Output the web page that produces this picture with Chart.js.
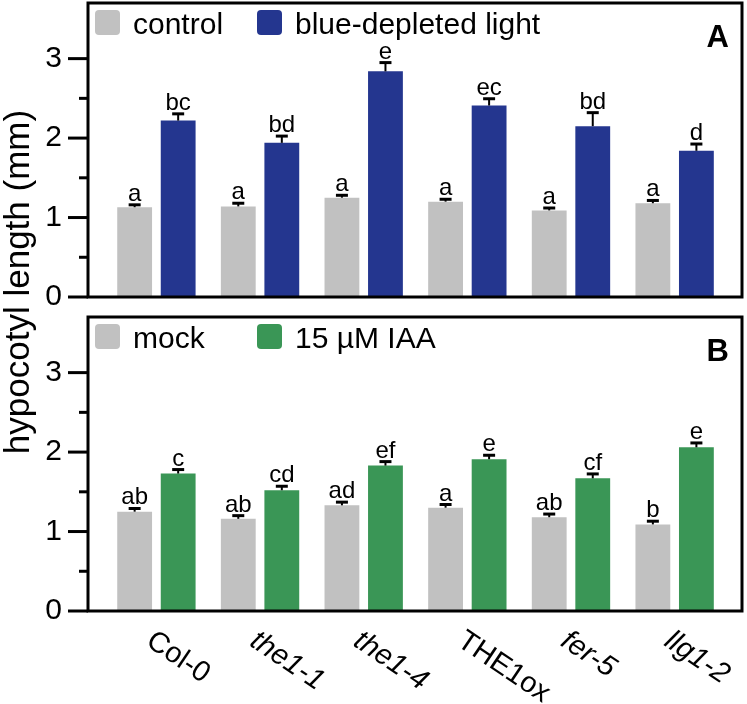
<!DOCTYPE html>
<html>
<head>
<meta charset="utf-8">
<script src="https://cdn.jsdelivr.net/npm/chart.js@4"></script>
<style>
  body { margin:0; background:#fff; }
  #wrap { position:relative; width:747px; height:704px; }
  canvas { position:absolute; left:0; top:0; }
</style>
</head>
<body>
<div id="wrap">
  <canvas id="chartB" width="747" height="704"></canvas>
  <canvas id="chartA" width="747" height="704"></canvas>
</div>
<script>
// genotypes on the x axis
const genotypes = ["Col-0", "the1-1", "the1-4", "THE1ox", "fer-5", "llg1-2"];
const italicLabel = [false, true, true, false, true, true];

// panel A
const controlVals = [1.13, 1.14, 1.25, 1.20, 1.09, 1.18];
const controlErr = [0.03, 0.04, 0.03, 0.03, 0.03, 0.035];
const controlLetters = ["a", "a", "a", "a", "a", "a"];
const blueVals = [2.22, 1.94, 2.84, 2.41, 2.15, 1.84];
const blueErr = [0.085, 0.085, 0.11, 0.085, 0.17, 0.085];
const blueLetters = ["bc", "bd", "e", "ec", "bd", "d"];

// panel B
const mockVals = [1.25, 1.16, 1.33, 1.30, 1.18, 1.09];
const mockErr = [0.04, 0.04, 0.04, 0.04, 0.04, 0.04];
const mockLetters = ["ab", "ab", "ad", "a", "ab", "b"];
const iaaVals = [1.73, 1.52, 1.83, 1.91, 1.67, 2.06];
const iaaErr = [0.05, 0.05, 0.05, 0.05, 0.055, 0.055];
const iaaLetters = ["c", "cd", "ef", "e", "cf", "e"];

const yTicks = [0, 1, 2, 3];
const yMax = 3.7;

const FONT = "'Liberation Sans', Arial, sans-serif";
const grey = "#c1c1c1";
const blue = "#24368f";
const green = "#3a9656";

function toPoints(vals) {
  return vals.map((v, i) => ({ x: i, y: v }));
}

// frame, y tick marks, legend, panel tag, error bars and letters
const panelPlugin = {
  id: "panel",
  afterDatasetsDraw(chart) {
    const ctx = chart.ctx;
    const a = chart.chartArea;
    const ys = chart.scales.y;
    const po = chart.options.plugins.panel;
    ctx.save();

    // error bars + letters
    chart.data.datasets.forEach((ds, di) => {
      const meta = chart.getDatasetMeta(di);
      meta.data.forEach((bar, i) => {
        const top = ys.getPixelForValue(ds.data[i].y + ds.err[i]);
        ctx.strokeStyle = "#000";
        ctx.lineWidth = 2;
        ctx.beginPath();
        ctx.moveTo(bar.x, bar.y);
        ctx.lineTo(bar.x, top);
        ctx.stroke();
        ctx.lineWidth = 3;
        ctx.beginPath();
        ctx.moveTo(bar.x - 6, top);
        ctx.lineTo(bar.x + 6, top);
        ctx.stroke();
        ctx.fillStyle = "#000";
        ctx.font = "24px " + FONT;
        ctx.textAlign = "center";
        ctx.textBaseline = "alphabetic";
        ctx.fillText(ds.letters[i], bar.x, top - 4);
      });
    });

    // frame
    ctx.strokeStyle = "#000";
    ctx.lineWidth = 3;
    ctx.strokeRect(a.left, a.top, a.right - a.left, a.bottom - a.top);

    // tick marks every 0.5
    ys.ticks.forEach(t => {
      if (Math.abs(t.value * 2 - Math.round(t.value * 2)) > 1e-6) return;
      const y = ys.getPixelForValue(t.value);
      const len = Number.isInteger(t.value) ? 20 : 9;
      ctx.beginPath();
      ctx.moveTo(a.left - len, y);
      ctx.lineTo(a.left, y);
      ctx.stroke();
    });

    // legend
    const lx = [95, 257];
    chart.data.datasets.forEach((ds, di) => {
      const bx = lx[di], by = a.top + 7;
      ctx.fillStyle = ds.backgroundColor;
      ctx.beginPath();
      ctx.roundRect(bx, by, 25, 25, 4);
      ctx.fill();
      ctx.fillStyle = "#000";
      ctx.font = "30px " + FONT;
      ctx.textAlign = "left";
      ctx.textBaseline = "alphabetic";
      ctx.fillText(ds.label, bx + 38, by + 24);
    });

    // panel tag
    ctx.font = "bold 31px " + FONT;
    ctx.textAlign = "right";
    ctx.fillText(po.tag, a.right - 13, a.top + 44);

    // x labels and y title only on the lower panel
    if (po.xLabels) {
      const xs = chart.scales.x;
      genotypes.forEach((g, i) => {
        const x = xs.getPixelForValue(i);
        ctx.save();
        ctx.translate(x + 1, a.bottom + 15);
        ctx.rotate(34 * Math.PI / 180);
        ctx.font = (italicLabel[i] ? "italic " : "") + "29px " + FONT;
        ctx.textAlign = "left";
        ctx.textBaseline = "top";
        ctx.fillText(g, 0, 0);
        ctx.restore();
      });
      ctx.save();
      ctx.translate(19, 282);
      ctx.rotate(-Math.PI / 2);
      ctx.font = "35px " + FONT;
      ctx.textAlign = "center";
      ctx.textBaseline = "middle";
      ctx.fillText("hypocotyl length (mm)", 0, 0);
      ctx.restore();
    }
    ctx.restore();
  }
};

function makePanel(id, sets, tag, padTop, padBottom, xLabels) {
  return new Chart(document.getElementById(id), {
    type: "bar",
    data: {
      datasets: sets.map(s => ({
        label: s.label,
        data: toPoints(s.vals),
        err: s.err,
        letters: s.letters,
        backgroundColor: s.color,
        borderWidth: 0,
        categoryPercentage: 0.84,
        barPercentage: 0.8
      }))
    },
    options: {
      responsive: false,
      animation: false,
      layout: { padding: { top: padTop, bottom: padBottom, left: 0, right: 5 } },
      plugins: {
        legend: { display: false },
        tooltip: { enabled: false },
        panel: { tag: tag, xLabels: xLabels }
      },
      scales: {
        x: {
          type: "linear",
          min: -0.66,
          max: 5.65,
          offset: false,
          display: false,
          afterBuildTicks(scale) {
            scale.ticks = genotypes.map((g, i) => ({ value: i }));
          }
        },
        y: {
          min: 0,
          max: yMax,
          afterFit(scale) {
            scale.width = 88;
            scale.paddingTop = 0;
            scale.paddingBottom = 0;
          },
          border: { display: false },
          grid: { display: false, drawTicks: false, tickLength: 0 },
          ticks: {
            stepSize: 0.5,
            padding: 26,
            color: "#000",
            font: { size: 30, family: FONT },
            callback: v => yTicks.includes(v) ? String(v) : ""
          }
        }
      }
    },
    plugins: [panelPlugin]
  });
}

makePanel("chartA", [
  { label: "control", vals: controlVals, err: controlErr, letters: controlLetters, color: grey },
  { label: "blue-depleted light", vals: blueVals, err: blueErr, letters: blueLetters, color: blue }
], "A", 3, 704 - 297, false);

makePanel("chartB", [
  { label: "mock", vals: mockVals, err: mockErr, letters: mockLetters, color: grey },
  { label: "15 µM IAA", vals: iaaVals, err: iaaErr, letters: iaaLetters, color: green }
], "B", 317, 704 - 611, true);
</script>
</body>
</html>
